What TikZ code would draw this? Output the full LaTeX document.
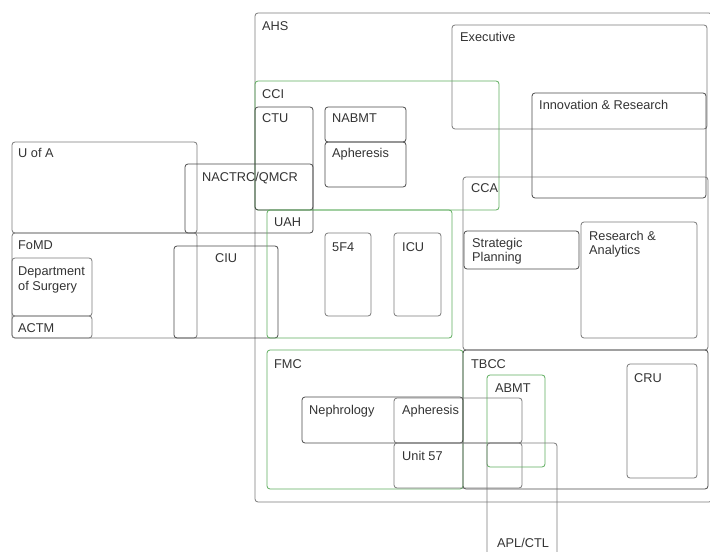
\documentclass[tikz,border=0pt]{standalone}
\usepackage{fontspec}
\setmainfont{Liberation Sans}
\definecolor{boxgray}{HTML}{7A7A7A}
\definecolor{boxdark}{HTML}{4A4A4A}
\definecolor{boxgreen}{HTML}{5FAE5F}
\definecolor{txt}{HTML}{333333}
\begin{document}
\begin{tikzpicture}[x=1bp,y=-1bp,
  box/.style={draw=boxgray,line width=0.8bp,rounded corners=3bp},
  dbox/.style={draw=boxdark,line width=0.8bp,rounded corners=3bp},
  gbox/.style={draw=boxgreen,line width=0.8bp,rounded corners=3bp},
  lbl/.style={anchor=base west,inner sep=0pt,text=txt,font=\fontsize{12.8}{15}\selectfont,align=left}]
\useasboundingbox[fill=white] (0,0) rectangle (710,552);
\clip (0,0) rectangle (710,552);
% AHS
\draw[box] (255,13) rectangle (712,502);
\node[lbl] (ahs) at (262,31) {AHS};
% Executive
\draw[box] (452,25) rectangle (707,129);
\node[lbl] (exec) at (460,42) {Executive};
% Innovation & Research
\draw[dbox] (532,93) rectangle (706,198);
\node[lbl] (innov) at (539,110) {Innovation \& Research};
% CCI
\draw[gbox] (255,81) rectangle (499,210);
\node[lbl] (cci) at (262,99) {CCI};
% CTU
\draw[dbox] (255,107) rectangle (313,210);
\node[lbl] (ctu) at (262,123) {CTU};
% NABMT
\draw[dbox] (325,107) rectangle (406,142);
\node[lbl] (nabmt) at (332,123) {NABMT};
% Apheresis (CCI)
\draw[dbox] (325,142) rectangle (406,187);
\node[lbl] (aph1) at (332,158) {Apheresis};
% U of A
\draw[box] (12,142) rectangle (197,233);
\node[lbl] (uofa) at (18,158) {U of A};
% NACTRC/QMCR
\draw[dbox] (185,164) rectangle (313,233);
\node[lbl] (nactrc) at (202,182) {NACTRC/QMCR};
% FoMD
\draw[box] (12,233) rectangle (197,338);
\node[lbl] (fomd) at (18,250) {FoMD};
% Department of Surgery
\draw[box] (12,258) rectangle (92,316);
\node[lbl] (dos) at (18,290) {Department\\of Surgery};
% ACTM
\draw[box] (12,316) rectangle (92,338);
\node[lbl] (actm) at (18,332) {ACTM};
% CIU
\draw[dbox] (174,246) rectangle (278,338);
\node[lbl] (ciu) at (215,263) {CIU};
% UAH
\draw[gbox] (267,210) rectangle (452,338);
\node[lbl] (uah) at (274,227) {UAH};
% 5F4
\draw[box] (325,233) rectangle (371,316);
\node[lbl] (f54) at (332,252) {5F4};
% ICU
\draw[box] (394,233) rectangle (441,316);
\node[lbl] (icu) at (402,252) {ICU};
% CCA
\draw[box] (463,177) rectangle (708,350);
\node[lbl] (cca) at (471,193) {CCA};
% Strategic Planning
\draw[dbox] (464,231) rectangle (579,269);
\node[lbl] (strat) at (472,262) {Strategic\\Planning};
% Research & Analytics
\draw[box] (581,222) rectangle (697,338);
\node[lbl] (ra) at (589,255) {Research \&\\Analytics};
% FMC
\draw[gbox] (267,350) rectangle (463,489);
\node[lbl] (fmc) at (274,368) {FMC};
% TBCC
\draw[dbox] (463,350) rectangle (708,489);
\node[lbl] (tbcc) at (471,368) {TBCC};
% CRU
\draw[box] (627,364) rectangle (697,478);
\node[lbl] (cru) at (634,382) {CRU};
% Nephrology
\draw[dbox] (302,397) rectangle (463,443);
\node[lbl] (neph) at (309,414) {Nephrology};
% Apheresis (FMC)
\draw[box] (394,398) rectangle (522,443);
\node[lbl] (aph2) at (402,414) {Apheresis};
% Unit 57
\draw[box] (394,443) rectangle (522,488);
\node[lbl] (u57) at (402,460) {Unit 57};
% ABMT
\draw[gbox] (487,375) rectangle (545,467);
\node[lbl] (abmt) at (495,392) {ABMT};
% APL/CTL (open at bottom)
\draw[box] (487,560) -- (487,443) -- (557,443) -- (557,560);
\node[lbl] (aplctl) at (497,547) {APL/CTL};
\end{tikzpicture}
\end{document}
